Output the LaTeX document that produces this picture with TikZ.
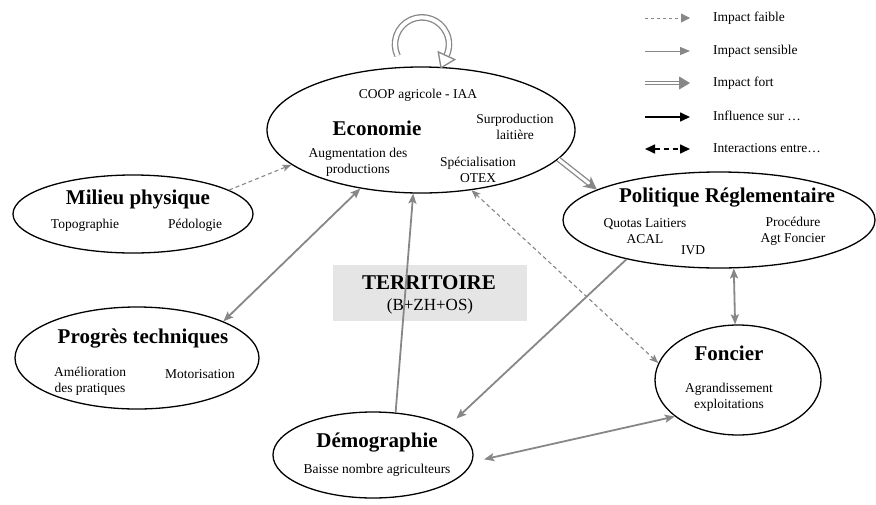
\documentclass[tikz,border=0pt]{standalone}
\usepackage{fontspec}
\setmainfont{Liberation Serif}
\usetikzlibrary{arrows.meta,shapes.geometric,calc}
\definecolor{arr}{gray}{0.53}
\definecolor{boxgray}{gray}{0.9}
\begin{document}
\begin{tikzpicture}[x=1pt,y=-1pt,
 ell/.style={ellipse, draw=black, line width=1.3pt, inner sep=0pt},
 ttl/.style={font=\fontsize{21}{23}\selectfont\bfseries, inner sep=0pt},
 txt/.style={font=\fontsize{13.5}{16}\selectfont, inner sep=0pt, align=center},
 ltxt/.style={font=\fontsize{13.5}{16}\selectfont, inner sep=0pt, anchor=west},
 sens/.style={draw=arr, line width=1.8pt, -{Stealth[length=10pt,width=8pt,inset=2pt]}},
 sensboth/.style={draw=arr, line width=1.8pt, {Stealth[length=10pt,width=8pt,inset=2pt]}-{Stealth[length=10pt,width=8pt,inset=2pt]}},
 faible/.style={draw=arr, line width=1.1pt, dash pattern=on 4pt off 3pt, -{Stealth[length=9pt,width=7pt,inset=2pt]}},
 faibleboth/.style={draw=arr, line width=1.1pt, dash pattern=on 4pt off 3pt, {Stealth[length=9pt,width=7pt,inset=2pt]}-{Stealth[length=9pt,width=7pt,inset=2pt]}},
 fort/.style={draw=arr, line width=1.3pt, double=white, double distance=3pt, -{Stealth[length=13pt,width=13pt,inset=4pt,fill=arr]}},
 loopring/.style={draw=arr, line width=1.3pt, double=white, double distance=4pt},
 loophead/.style={draw=arr, line width=1.3pt, fill=white, line join=miter},
 lfaible/.style={draw=arr, line width=0.9pt, dash pattern=on 3pt off 3pt, -{Triangle[length=9pt,width=9pt]}},
 lsens/.style={draw=arr, line width=1pt, -{Triangle[length=10pt,width=8pt]}},
 lfort/.style={draw=arr, line width=0.9pt, double=white, double distance=2pt, -{Triangle[length=11pt,width=13pt]}},
 linfl/.style={draw=black, line width=1.6pt, -{Triangle[length=10pt,width=9pt]}},
 linter/.style={draw=black, line width=1.6pt, dash pattern=on 5pt off 4pt, {Triangle[length=10pt,width=9pt]}-{Triangle[length=10pt,width=9pt]}}
]
\useasboundingbox (0,0) rectangle (876,504);

% territoire box
\node[fill=boxgray, minimum width=194, minimum height=56, inner sep=0pt] (ter) at (430,293) {};

% ellipses
\node[ell, minimum width=308, minimum height=126] (eco) at (421,130) {};
\node[ell, minimum width=240, minimum height=78] (mil) at (133,214) {};
\node[ell, minimum width=244, minimum height=102] (pro) at (137,358) {};
\node[ell, minimum width=312, minimum height=96] (pol) at (719,220) {};
\node[ell, minimum width=166, minimum height=110] (fon) at (738,380) {};
\node[ell, minimum width=200, minimum height=86] (dem) at (373,455) {};

% texts
\node[txt] (coop) at (418,95) {COOP agricole - IAA};
\node[ttl] (ecot) at (377,128) {Economie};
\node[txt] (surp) at (515,127) {Surproduction\\laitière};
\node[txt] (augm) at (358,162) {Augmentation des\\productions};
\node[txt] (spec) at (478,170) {Spécialisation\\OTEX};

\node[ttl] (milt) at (138,199) {Milieu physique};
\node[txt] (topo) at (85,225) {Topographie};
\node[txt] (pedo) at (195,225) {Pédologie};

\node[ttl] (prot) at (143,339) {Progrès techniques};
\node[txt] (amel) at (90,381) {Amélioration\\des pratiques};
\node[txt] (moto) at (200,374) {Motorisation};

\node[ttl] (polt) at (727,198) {Politique Réglementaire};
\node[txt] (quot) at (645,231) {Quotas Laitiers\\ACAL};
\node[txt] (ivd) at (693,250) {IVD};
\node[txt] (proc) at (793,231) {Procédure\\Agt Foncier};

\node[ttl] (font) at (729,353) {Foncier};
\node[txt] (agra) at (729,397) {Agrandissement\\exploitations};

\node[ttl] (demt) at (377,443) {Démographie};
\node[txt] (bais) at (377,470) {Baisse nombre agriculteurs};

\node[ttl] (tert) at (429,283) {TERRITOIRE};
\node[txt, font=\fontsize{17}{19}\selectfont] (ters) at (430,306) {(B+ZH+OS)};

% connectors
\draw[faible] (mil.14) -- (eco.195);
\draw[sensboth] (eco.224) -- (pro.23);
\draw[sens] (dem.62) -- (eco.263);
\draw[sens, shorten >=11pt] (pol.203) -- (dem.21);
\draw[faibleboth] (eco.310) -- (fon.168);
\draw[sensboth] (pol.287) -- (fon.93);
\draw[sensboth, shorten <=12pt] (dem.356) -- (fon.210);
\draw[fort] (eco.348) -- (pol.166);

% self loop on Economie
\coordinate (lps) at ($(eco.north)+(-23.5,-10.6)$);
\coordinate (lpt) at ($(eco.north)+(20,1.4)$);
\coordinate (lpa) at ($(eco.north)+(33.7,-6.8)$);
\coordinate (lpb) at ($(eco.north)+(17.3,-14.4)$);
\draw[loopring] (lps) arc[start angle=-205, end angle=27, radius=27];
\draw[loophead] (lpt) -- (lpa) -- (lpb) -- cycle;

% legend
\coordinate (l1a) at (645,18); \coordinate (l1b) at (690,18);
\coordinate (l2a) at (645,51); \coordinate (l2b) at (690,51);
\coordinate (l3a) at (645,83); \coordinate (l3b) at (690,83);
\coordinate (l4a) at (645,117); \coordinate (l4b) at (690,117);
\coordinate (l5a) at (645,149); \coordinate (l5b) at (690,149);
\draw[lfaible] (l1a) -- (l1b);
\draw[lsens] (l2a) -- (l2b);
\draw[lfort] (l3a) -- (l3b);
\draw[linfl] (l4a) -- (l4b);
\draw[linter] (l5a) -- (l5b);
\node[ltxt] (lt1) at (713,18) {Impact faible};
\node[ltxt] (lt2) at (713,51) {Impact sensible};
\node[ltxt] (lt3) at (713,83) {Impact fort};
\node[ltxt] (lt4) at (713,116) {Influence sur …};
\node[ltxt] (lt5) at (713,148) {Interactions entre…};
\end{tikzpicture}
\end{document}
